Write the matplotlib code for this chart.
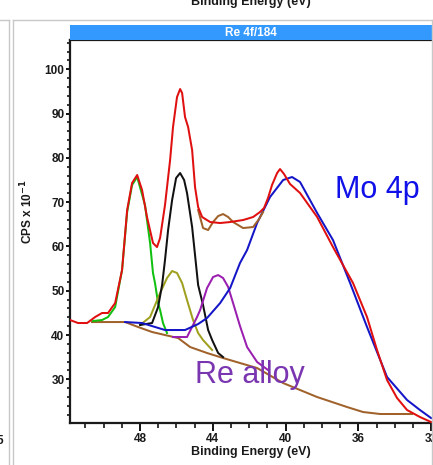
import numpy as np
import matplotlib
matplotlib.use("Agg")
import matplotlib.pyplot as plt
from matplotlib.lines import Line2D
from matplotlib.patches import Rectangle
from matplotlib.transforms import ScaledTranslation

plt.rcParams["font.family"] = ["Liberation Sans", "DejaVu Sans"]

# -------------------------------------------------------
# 1. DATA (binding energy in eV / CPS x 10^-1)
# -------------------------------------------------------
raw_be = [51.85, 51.41, 50.91, 50.47, 50.09, 49.76, 49.37, 48.99, 48.71, 48.44,
          48.16, 47.89, 47.62, 47.29, 47.07, 46.90, 46.63, 46.35, 46.19, 45.97,
          45.80, 45.69, 45.53, 45.36, 45.14, 44.98, 44.81, 44.59, 44.15, 43.60,
          43.05, 42.34, 41.79, 41.41, 41.19, 40.97, 40.75, 40.47, 40.31, 40.09,
          39.76, 39.21, 38.27, 37.40, 36.30, 35.53, 34.98, 34.43, 33.88, 33.33,
          32.62, 32.01]
raw_cps = [43.39, 42.71, 42.71, 44.06, 44.97, 44.97, 47.22, 54.67, 68.22, 74.31,
           76.12, 72.73, 66.64, 60.77, 59.86, 61.90, 69.35, 79.50, 86.95, 93.72,
           95.53, 94.63, 89.21, 86.95, 81.76, 73.41, 68.89, 66.64, 65.51, 65.28,
           65.51, 65.96, 66.64, 67.77, 68.67, 70.93, 73.86, 76.57, 77.47, 76.34,
           74.09, 72.06, 66.64, 59.86, 51.74, 44.06, 36.61, 29.84, 25.78, 23.07,
           21.49, 20.36]

env_be = [44.81, 44.54, 44.26, 43.99, 43.71, 43.44, 43.16, 42.89, 42.34, 41.79,
          41.46, 41.24]
env_cps = [68.22, 64.15, 63.70, 65.51, 66.86, 67.31, 66.64, 65.51, 64.15, 64.38,
           66.19, 67.77]

bg_be = [50.64, 48.82, 48.11, 47.34, 46.63, 45.91, 45.25, 44.32, 43.44, 42.51,
         41.57, 40.14, 38.27, 36.63, 35.75, 34.81, 33.05]
bg_cps = [42.93, 42.93, 41.81, 40.68, 40.00, 39.32, 37.29, 35.94, 34.81, 33.68,
          32.55, 29.16, 26.00, 23.75, 22.62, 22.17, 22.17]

# Re metal 4f7/2
green_be = [50.58, 50.09, 49.76, 49.37, 48.99, 48.71, 48.44, 48.16, 47.73, 47.45,
            47.29, 47.18, 47.01, 46.90, 46.74, 46.52]
green_cps = [43.16, 43.39, 44.06, 46.32, 54.67, 67.77, 73.86, 75.67, 69.35, 60.77,
             54.00, 51.74, 47.22, 45.64, 42.71, 40.45]

# Re metal 4f5/2
black_be = [48.00, 47.34, 47.01, 46.79, 46.63, 46.46, 46.24, 46.02, 45.80, 45.58,
            45.42, 45.14, 44.98, 44.81, 44.54, 44.26, 44.04, 43.71, 43.44]
black_cps = [42.26, 42.71, 46.32, 51.29, 56.93, 63.70, 70.47, 75.44, 76.57, 74.99,
             72.06, 64.38, 58.06, 51.29, 46.77, 41.13, 38.87, 35.94, 35.03]

olive_be = [48.00, 47.45, 46.90, 46.52, 46.24, 45.97, 45.69, 45.42, 45.09, 44.81,
            44.54, 44.04]
olive_cps = [42.26, 44.06, 49.48, 52.87, 54.45, 54.00, 51.74, 47.90, 43.39, 40.45,
             38.87, 36.61]

# Re alloy
purple_be = [46.19, 45.42, 44.87, 44.70, 44.32, 43.99, 43.71, 43.44, 43.16, 42.89,
             42.51, 42.12, 41.57, 40.97]
purple_cps = [39.55, 39.55, 44.06, 45.64, 50.61, 53.09, 53.54, 52.87, 50.84, 47.22,
              42.03, 37.29, 33.91, 32.10]

# Mo 4p
blue_be = [48.82, 47.89, 46.63, 45.53, 44.81, 44.32, 43.60, 43.05, 42.51, 42.12,
           41.57, 40.86, 40.14, 39.65, 39.21, 38.27, 37.40, 36.46, 35.53, 34.43,
           33.33, 32.62, 32.01]
blue_cps = [42.93, 42.71, 41.13, 41.13, 42.48, 43.84, 47.22, 50.61, 56.25, 59.19,
            65.28, 71.15, 74.99, 75.67, 74.54, 67.54, 61.44, 51.74, 41.81, 30.52,
            25.33, 23.07, 21.26]

x_ticks = [48, 44, 40, 36, 32]
y_ticks = [30, 40, 50, 60, 70, 80, 90, 100]

# -------------------------------------------------------
# 2. FIGURE
# -------------------------------------------------------
W, H = 433, 465
fig = plt.figure(figsize=(W / 100, H / 100), dpi=100)

def fx(px):
    return px / W

def fy(py):
    return 1 - py / H

ax = fig.add_axes([fx(70), fy(423), fx(432) - fx(70), fy(40) - fy(423)])

lw = 1.45
ax.plot(bg_be, bg_cps, color="#a0622a", lw=lw, zorder=2)
ax.plot(green_be, green_cps, color="#10c010", lw=lw, zorder=3)
ax.plot(olive_be, olive_cps, color="#a0a020", lw=lw, zorder=3)
ax.plot(black_be, black_cps, color="#111111", lw=lw, zorder=3)
ax.plot(purple_be, purple_cps, color="#9a1fb0", lw=lw, zorder=3)
ax.plot(blue_be, blue_cps, color="#1515c8", lw=lw, zorder=4)
ax.plot(env_be, env_cps, color="#a0622a", lw=lw, zorder=5)
ax.plot(raw_be, raw_cps, color="#e01010", lw=lw, zorder=6)

ax.set_xlim(51.85, 31.96)
ax.set_ylim(20.14, 106.6)

ax.set_xticks(x_ticks)
ax.set_xticklabels([str(v) for v in x_ticks])
ax.set_xticks(np.arange(32, 52, 1), minor=True)
ax.set_yticks(y_ticks)
ax.set_yticklabels([str(v) for v in y_ticks])
ax.set_yticks(np.arange(22, 107, 2), minor=True)

for lab in ax.get_xticklabels() + ax.get_yticklabels():
    lab.set_fontweight("bold")
    lab.set_fontsize(8.5)
    lab.set_color("#1a1a1a")
# y labels sit a little above their ticks
for lab in ax.get_yticklabels():
    lab.set_transform(lab.get_transform() + ScaledTranslation(0, 3 / 72, fig.dpi_scale_trans))

ax.tick_params(axis="x", which="major", direction="out", length=6, width=1.3, pad=1.5)
ax.tick_params(axis="x", which="minor", direction="out", length=3.5, width=1.1)
ax.tick_params(axis="y", which="major", direction="out", length=3, width=1.3, pad=1)
ax.tick_params(axis="y", which="minor", direction="out", length=2.3, width=1.1)

ax.spines["right"].set_visible(False)
for s in ["left", "bottom", "top"]:
    ax.spines[s].set_linewidth(1.6)
    ax.spines[s].set_color("#1a1a1a")

# annotations
fig.text(fx(335), fy(198), "Mo 4p", color="#1010e8", fontsize=22, va="baseline", ha="left")
fig.text(fx(195), fy(383), "Re alloy", color="#7a35b0", fontsize=22, va="baseline", ha="left")

# -------------------------------------------------------
# 3. PANEL DECORATIONS
# -------------------------------------------------------
fig.patches.append(Rectangle((fx(70), fy(40)), fx(433) - fx(70), fy(25) - fy(40),
                             transform=fig.transFigure, facecolor="#3399ff",
                             edgecolor="none", zorder=1))
fig.text(fx(251), fy(32.5), "Re 4f/184", color="white", fontsize=8.5, fontweight="bold",
         ha="center", va="center")

fig.text(fx(251), fy(452), "Binding Energy (eV)", fontsize=9, fontweight="bold",
         ha="center", va="center", color="#1a1a1a")
fig.text(fx(27), fy(212), "CPS x 10$^{\\mathbf{-1}}$", fontsize=8.5, fontweight="bold",
         rotation=90, ha="center", va="center", color="#1a1a1a")

# clipped pieces of neighbouring panels
fig.text(fx(251), fy(5), "Binding Energy (eV)", fontsize=9, fontweight="bold",
         ha="center", va="baseline", color="#1a1a1a")
fig.text(fx(3.5), fy(444), "5", fontsize=8.5, fontweight="bold",
         ha="right", va="baseline", color="#1a1a1a")

gray = "#c8c8c8"
for (x0, y0, x1, y1) in [(0, 20, 8.5, 20), (8.5, 20, 8.5, 465),
                         (12.5, 20, 433, 20), (12.5, 20, 12.5, 465),
                         (432, 20, 432, 465)]:
    fig.lines.append(Line2D([fx(x0), fx(x1)], [fy(y0), fy(y1)], transform=fig.transFigure,
                            color=gray, lw=1.0))

fig.savefig("out.png", dpi=100)
